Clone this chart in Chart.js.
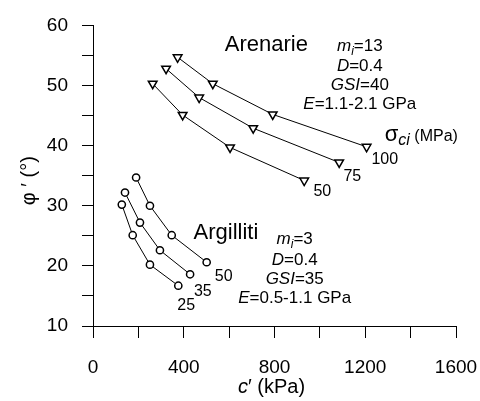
<!DOCTYPE html>
<html>
<head>
<meta charset="utf-8">
<script src="https://cdn.jsdelivr.net/npm/chart.js@4.4.1/dist/chart.umd.min.js"></script>
<style>
  html, body { margin: 0; padding: 0; background: #fff; }
  #wrap { width: 480px; height: 401px; }
</style>
</head>
<body>
<div id="wrap"><canvas id="chart-mc"></canvas></div>
<script>
// Arenarie (sandstone), sigma_ci = 100 / 75 / 50 MPa
const arenC100 = [373, 528, 792, 1206]
const arenPhi100 = [54.7, 50.3, 45.2, 39.8]
const arenC75 = [322, 468, 706, 1085]
const arenPhi75 = [52.8, 48.0, 42.9, 37.2]
const arenC50 = [263, 395, 604, 931]
const arenPhi50 = [50.3, 45.1, 39.7, 34.2]

// Argilliti (claystone), sigma_ci = 50 / 35 / 25 MPa
const argC50 = [190, 251, 347, 501]
const argPhi50 = [34.7, 30.0, 25.1, 20.6]
const argC35 = [141, 207, 295, 428]
const argPhi35 = [32.2, 27.2, 22.6, 18.6]
const argC25 = [127, 175, 251, 376]
const argPhi25 = [30.2, 25.1, 20.2, 16.7]

const xTicks = [0, 400, 800, 1200, 1600]
const yTicks = [10, 20, 30, 40, 50, 60]

const FONT = "'Liberation Sans', Arial, sans-serif"

function pts(cs, phis) {
  return cs.map((c, i) => ({ x: c, y: phis[i] }))
}

function series(cs, phis, marker) {
  const tri = marker === "triangle"
  return {
    data: pts(cs, phis),
    showLine: true,
    borderColor: "#000",
    borderWidth: 1,
    pointStyle: marker,
    rotation: tri ? 180 : 0,
    pointRadius: tri ? 5 : 3.6,
    pointBackgroundColor: "#fff",
    pointBorderColor: "#000",
    pointBorderWidth: 1.5
  }
}

// text segments: [text, size, italic, baseline shift]
function drawRich(ctx, segs, x, y, align) {
  let w = 0
  segs.forEach(s => {
    ctx.font = (s[2] ? "italic " : "") + s[1] + "px " + FONT
    w += ctx.measureText(s[0]).width
  })
  let cx = align === "center" ? x - w / 2 : x
  segs.forEach(s => {
    ctx.font = (s[2] ? "italic " : "") + s[1] + "px " + FONT
    ctx.fillText(s[0], cx, y + (s[3] || 0))
    cx += ctx.measureText(s[0]).width
  })
}

// annotations placed in data units (c', phi') - anchor = centre / baseline
const notes = [
  { at: [764, 55.7], segs: [["Arenarie", 22]] },
  { at: [1176, 55.8], segs: [["m", 17, true], ["i", 12, true, 4], ["=13", 17]] },
  { at: [1176, 52.4], segs: [["D", 17, true], ["=0.4", 17]] },
  { at: [1176, 49.2], segs: [["GSI", 17, true], ["=40", 17]] },
  { at: [1176, 46.1], segs: [["E", 17, true], ["=1.1-2.1 GPa", 17]] },
  { at: [1286, 40.8], left: true, segs: [["σ", 22], ["ci", 16, true, 4], [" (MPa)", 16]] },
  { at: [1286, 36.9], segs: [["100", 16]] },
  { at: [1143, 34.1], segs: [["75", 16]] },
  { at: [1011, 31.6], segs: [["50", 16]] },
  { at: [586, 24.5], segs: [["Argilliti", 22]] },
  { at: [889, 23.7], segs: [["m", 17, true], ["i", 12, true, 4], ["=3", 17]] },
  { at: [889, 20.2], segs: [["D", 17, true], ["=0.4", 17]] },
  { at: [889, 16.95], segs: [["GSI", 17, true], ["=35", 17]] },
  { at: [889, 13.8], segs: [["E", 17, true], ["=0.5-1.1 GPa", 17]] },
  { at: [576, 17.5], segs: [["50", 16]] },
  { at: [484, 15.0], segs: [["35", 16]] },
  { at: [411, 12.7], segs: [["25", 16]] }
]

const annotate = {
  id: "annotate",
  afterDraw(chart) {
    const { ctx, scales: { x, y }, chartArea } = chart
    ctx.save()
    ctx.fillStyle = "#000"
    ctx.textBaseline = "alphabetic"
    notes.forEach(n => {
      drawRich(ctx, n.segs, x.getPixelForValue(n.at[0]), y.getPixelForValue(n.at[1]), n.left ? "left" : "center")
    })
    // axis titles
    const midX = (chartArea.left + chartArea.right) / 2
    drawRich(ctx, [["c", 20, true], ["′ (kPa)", 20]], midX - 3, chartArea.bottom + 67, "center")
    ctx.translate(chartArea.left - 58, (chartArea.top + chartArea.bottom) / 2 + 5)
    ctx.rotate(-Math.PI / 2)
    drawRich(ctx, [["φ ′ (°)", 20]], 0, 0, "center")
    ctx.restore()
  }
}

new Chart(document.getElementById("chart-mc"), {
  type: "scatter",
  data: {
    datasets: [
      series(arenC100, arenPhi100, "triangle"),
      series(arenC75, arenPhi75, "triangle"),
      series(arenC50, arenPhi50, "triangle"),
      series(argC50, argPhi50, "circle"),
      series(argC35, argPhi35, "circle"),
      series(argC25, argPhi25, "circle")
    ]
  },
  options: {
    responsive: true,
    maintainAspectRatio: false,
    animation: false,
    layout: { padding: { top: 24, right: 0, left: 0, bottom: 0 } },
    plugins: { legend: { display: false }, tooltip: { enabled: false } },
    scales: {
      x: {
        type: "linear",
        min: 0,
        max: 1600,
        afterFit: s => { s.height = 75; s.paddingRight = 24 },
        ticks: {
          stepSize: 200,
          autoSkip: false,
          maxRotation: 0,
          padding: 18,
          color: "#000",
          font: { family: FONT, size: 19 },
          callback: v => xTicks.includes(v) ? String(v) : ""
        },
        grid: { drawOnChartArea: false, drawTicks: true, tickLength: 12, color: "#000", lineWidth: 1 },
        border: { display: true, color: "#000", width: 1 }
      },
      y: {
        min: 10,
        max: 60,
        afterFit: s => { s.width = 93 },
        ticks: {
          stepSize: 5,
          autoSkip: false,
          padding: 14,
          color: "#000",
          font: { family: FONT, size: 19 },
          callback: v => yTicks.includes(v) ? String(v) : ""
        },
        grid: { drawOnChartArea: false, drawTicks: true, tickLength: 11, color: "#000", lineWidth: 1 },
        border: { display: true, color: "#000", width: 1 }
      }
    }
  },
  plugins: [annotate]
})
</script>
</body>
</html>
